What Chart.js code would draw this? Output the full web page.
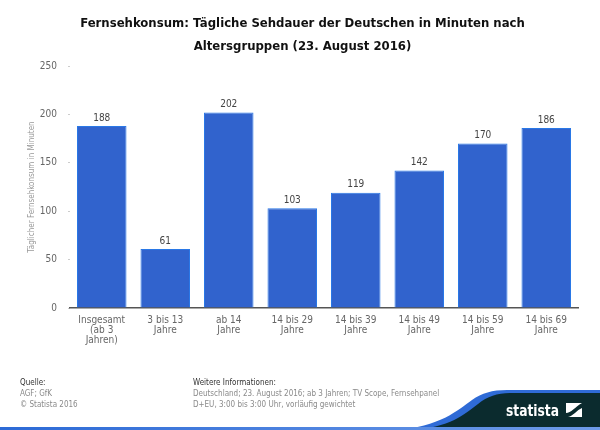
<!DOCTYPE html>
<html>
<head>
<meta charset="utf-8">
<script src="https://cdn.jsdelivr.net/npm/chart.js@4/dist/chart.umd.min.js"></script>
<style>
	html, body { margin: 0; padding: 0; background: #fff; }
	#wrap { position: relative; width: 600px; height: 430px; overflow: hidden; font-family: "DejaVu Sans Condensed", "DejaVu Sans", sans-serif; }
	#chart { position: absolute; left: 0; top: 0; }
	.foot { position: absolute; font-size: 8px; line-height: 11px; color: #8a8a8a; }
	.foot b { color: #333; font-weight: normal; }
	#logo { position: absolute; left: 0; top: 0; }
</style>
</head>
<body>
<div id="wrap">
	<canvas id="chart" width="600" height="352"></canvas>
	<svg id="logo" width="600" height="430">
		<defs>
			<linearGradient id="line" x1="0" x2="1" y1="0" y2="0">
				<stop offset="0" stop-color="#2c6ad6"/>
				<stop offset="1" stop-color="#6e9be8"/>
			</linearGradient>
		</defs>
		<path d="M395 430 C 440 427, 458 410, 472 400 C 482 393, 492 390, 507 390 L 600 390 L 600 430 Z" fill="#2f6bd6"/>
		<path d="M408 430 C 452 428, 464 414, 478 404 C 488 396, 498 393, 512 393 L 600 393 L 600 430 Z" fill="#0b2b2e"/>
		<rect x="0" y="427" width="600" height="3" fill="url(#line)"/>
		<text x="506" y="416" fill="#fff" font-family="'DejaVu Sans Condensed', 'DejaVu Sans'" font-weight="bold" font-size="16" textLength="53" lengthAdjust="spacingAndGlyphs">statista</text>
		<rect x="566" y="403" width="16" height="14" fill="#fff"/>
		<path d="M566 417 L 566 413 C 571 413, 575 407, 582 403 L 582 408 C 577 410, 573 416, 568 417 Z" fill="#0b2b2e"/>
	</svg>
	<div class="foot" style="left:20px; top:377px;"><b>Quelle:</b><br>AGF; GfK<br>© Statista 2016</div>
	<div class="foot" style="left:193px; top:377px;"><b>Weitere Informationen:</b><br>Deutschland; 23. August 2016; ab 3 Jahren; TV Scope, Fernsehpanel<br>D+EU, 3:00 bis 3:00 Uhr, vorläufig gewichtet</div>
</div>
<script>
const titleLines = ['Fernsehkonsum: Tägliche Sehdauer der Deutschen in Minuten nach', 'Altersgruppen (23. August 2016)'];
const categories = [
	['Insgesamt', '(ab 3', 'Jahren)'],
	['3 bis 13', 'Jahre'],
	['ab 14', 'Jahre'],
	['14 bis 29', 'Jahre'],
	['14 bis 39', 'Jahre'],
	['14 bis 49', 'Jahre'],
	['14 bis 59', 'Jahre'],
	['14 bis 69', 'Jahre']
];
const minutes = [188, 61, 202, 103, 119, 142, 170, 186];
const yTicks = [0, 50, 100, 150, 200, 250];
const yTitle = 'Täglicher Fernsehkonsum in Minuten';

const FONT = '"DejaVu Sans Condensed", "DejaVu Sans", sans-serif';

// value labels above each bar
const valueLabels = {
	id: 'valueLabels',
	afterDatasetsDraw(chart) {
		const ctx = chart.ctx;
		const meta = chart.getDatasetMeta(0);
		ctx.save();
		ctx.font = '10px ' + FONT;
		ctx.fillStyle = '#444';
		ctx.textAlign = 'center';
		ctx.textBaseline = 'bottom';
		meta.data.forEach((bar, i) => {
			ctx.fillText(minutes[i], bar.x, bar.y - 3);
		});
		ctx.restore();
	}
};

new Chart(document.getElementById('chart'), {
	type: 'bar',
	data: {
		labels: categories,
		datasets: [{
			data: minutes,
			backgroundColor: '#3163cd',
			borderColor: '#2a78e6',
			borderWidth: 1,
			categoryPercentage: 0.78,
			barPercentage: 1
		}]
	},
	options: {
		responsive: false,
		animation: false,
		layout: { padding: { left: 27, right: 22, top: 0, bottom: 0 } },
		plugins: {
			legend: { display: false },
			tooltip: { enabled: false },
			title: {
				display: true,
				text: titleLines,
				color: '#111',
				font: { family: FONT, size: 13, weight: 'bold', lineHeight: 1.77 },
				padding: { top: 12, bottom: 8 }
			}
		},
		scales: {
			x: {
				grid: { display: false, drawTicks: false },
				border: { color: '#555', width: 1.5 },
				ticks: {
					color: '#666',
					font: { family: FONT, size: 10, lineHeight: 1 },
					maxRotation: 0,
					autoSkip: false,
					padding: 7
				}
			},
			y: {
				min: 0,
				max: 250,
				afterFit(scale) { scale.width = 43; },
				afterBuildTicks(scale) { scale.ticks = yTicks.map(v => ({ value: v })); },
				grid: { drawOnChartArea: false, tickLength: 2, color: '#ccc' },
				border: { display: false },
				ticks: {
					color: '#666',
					font: { family: FONT, size: 10 },
					padding: 11
				},
				title: {
					display: true,
					text: yTitle,
					color: '#999',
					font: { family: FONT, size: 8 },
					padding: 0
				}
			}
		}
	},
	plugins: [valueLabels]
});
</script>
</body>
</html>
